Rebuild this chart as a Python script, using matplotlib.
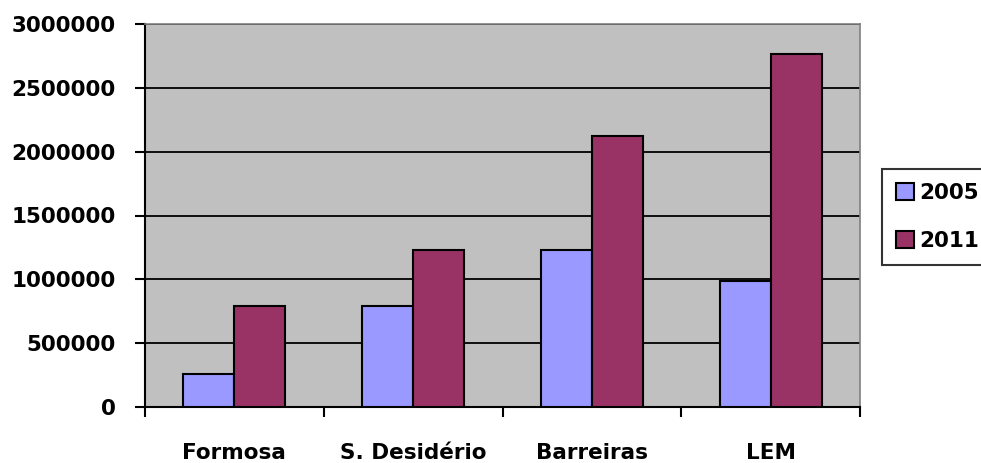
import numpy as np
import matplotlib
matplotlib.use("Agg")
import matplotlib.pyplot as plt
from matplotlib.ticker import FixedLocator

# ── DATA ─────────────────────────────────────────────────────────────────────
cities   = ["Formosa", "S. Desidério", "Barreiras", "LEM"]
vals2005 = [262000, 795000, 1230000, 990000]
vals2011 = [788000, 1228000, 2125000, 2768000]
years    = ["2005", "2011"]
yticks   = [0, 500000, 1000000, 1500000, 2000000, 2500000, 3000000]

plt.rcParams["font.family"] = ["DejaVu Sans"]
FS = 15.5

# ── PLOT ─────────────────────────────────────────────────────────────────────
fig = plt.figure(figsize=(9.81, 4.63), dpi=100)
ax = fig.add_axes([145/981, 1-407/463, (860-145)/981, (407-24)/463])
ax.set_facecolor("#C0C0C0")

x = np.arange(len(cities))
w = 1/3.5
b1 = ax.bar(x - w/2, vals2005, w, color="#9999FF", edgecolor="black", lw=1.5,
            label=years[0], zorder=3)
b2 = ax.bar(x + w/2, vals2011, w, color="#993366", edgecolor="black", lw=1.5,
            label=years[1], zorder=3)

ax.set_xlim(-0.5, len(cities) - 0.5)
ax.set_ylim(0, 3000000)
ax.set_yticks(yticks)
ax.set_yticklabels([str(v) for v in yticks], fontsize=FS, fontweight="bold")
ax.yaxis.grid(True, color="black", lw=1.3, zorder=1)

ax.set_xticks(x)
ax.set_xticklabels(cities, fontsize=FS, fontweight="bold")
ax.xaxis.set_minor_locator(FixedLocator(np.arange(len(cities) + 1) - 0.5))
ax.tick_params(axis="x", which="major", length=0, pad=26)
ax.tick_params(axis="x", which="minor", length=7, width=1.5, direction="out")
ax.tick_params(axis="y", length=7, width=1.5, direction="out", pad=14)

for s in ["left", "bottom"]:
    ax.spines[s].set_color("black")
    ax.spines[s].set_linewidth(1.5)
for s in ["top", "right"]:
    ax.spines[s].set_color("#808080")
    ax.spines[s].set_linewidth(1.2)

leg = fig.legend(handles=[b1, b2], loc="upper left",
                 bbox_to_anchor=(882/981, 1-169/463), frameon=True,
                 fancybox=False, edgecolor="black",
                 prop={"size": FS, "weight": "bold"},
                 handlelength=0.85, handleheight=0.85, handletextpad=0.25,
                 labelspacing=1.3, borderpad=0.65, borderaxespad=0)
leg.get_frame().set_linewidth(1.5)

fig.savefig("out.png", dpi=100)
